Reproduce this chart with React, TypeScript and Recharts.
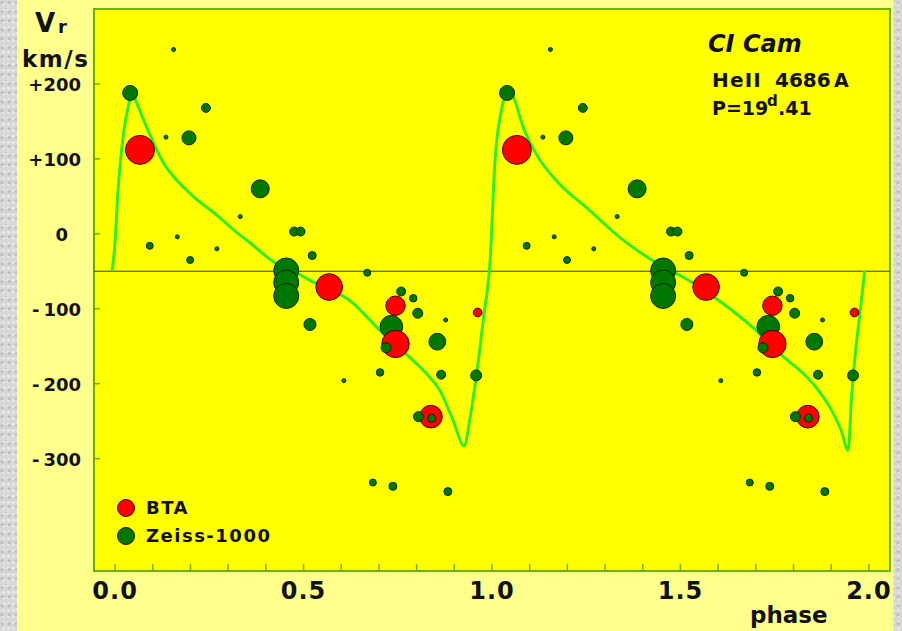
import React from 'react';
import {
  ScatterChart,
  Scatter,
  XAxis,
  YAxis,
  ZAxis,
  CartesianGrid,
  ReferenceLine,
  ReferenceArea,
  Legend,
} from 'recharts';

const FONT = '"DejaVu Sans", Verdana, sans-serif';
const AXIS_GREEN = '#6cb000';
const CURVE_GREEN = '#30ee22';
const ZEISS_FILL = '#007800';
const BTA_FILL = '#ff0000';

// ---- velocity curve (phase, km/s) ----
const curvePhase = [
  -0.008, 0.0, 0.006, 0.022, 0.038, 0.044, 0.057, 0.084, 0.128, 0.17, 0.212, 0.27, 0.323, 0.358, 0.422,
  0.492, 0.528, 0.623, 0.703, 0.782, 0.836, 0.862, 0.897, 0.926, 0.942, 0.959, 0.978, 0.995, 1.008, 1.025,
  1.044, 1.057, 1.083, 1.118, 1.18, 1.251, 1.34, 1.427, 1.525, 1.61, 1.692, 1.764, 1.852, 1.897, 1.927,
  1.945, 1.954, 1.963, 1.976, 1.989,
];
const curveV = [
  -50, -10, 44, 133, 177, 190, 175, 142, 95, 68, 48, 25, 2, -12, -38,
  -55, -65, -89, -129, -165, -192, -209, -249, -283, -245, -188, -110, -36, 97, 165,
  190, 182, 142, 106, 66, 35, -5, -36, -63, -92, -125, -160, -200, -232, -263,
  -289, -218, -165, -107, -49,
];

// ---- Zeiss-1000 points drawn beneath BTA ----
const zeissPhase = [
  0.04, 0.196, 0.241, 0.385, 0.092, 0.199, 0.475, 0.492, 0.523, 0.454, 0.454, 0.454, 0.669, 0.517, 0.759,
  0.791, 0.803, 0.733, 0.855, 0.703, 0.865, 0.958, 0.684, 0.737, 0.883,
  0.155, 0.135, 0.332, 0.165, 0.27, 0.877, 0.607,
  1.04, 1.196, 1.241, 1.385, 1.092, 1.199, 1.475, 1.492, 1.523, 1.454, 1.454, 1.454, 1.669, 1.517, 1.759,
  1.791, 1.803, 1.733, 1.855, 1.703, 1.865, 1.958, 1.684, 1.737, 1.883,
  1.155, 1.135, 1.332, 1.165, 1.27, 1.877, 1.607,
];
const zeissV = [
  188, 128, 168, 60, -16, -35, 3, 3, -29, -49, -65, -83, -52, -121, -77,
  -86, -106, -124, -144, -185, -188, -189, -332, -337, -344,
  246, 129, 23, -4, -20, -115, -196,
  188, 128, 168, 60, -16, -35, 3, 3, -29, -49, -65, -83, -52, -121, -77,
  -86, -106, -124, -144, -185, -188, -189, -332, -337, -344,
  246, 129, 23, -4, -20, -115, -196,
];
const zeissW = [
  56, 49, 20, 81, 12, 12, 20, 20, 16, 156, 156, 156, 12, 36, 20,
  14, 25, 128, 70, 14, 20, 30, 12, 16, 16,
  4, 4, 4, 4, 4, 4, 4,
  56, 49, 20, 81, 12, 12, 20, 20, 16, 156, 156, 156, 12, 36, 20,
  14, 25, 128, 70, 14, 20, 30, 12, 16, 16,
  4, 4, 4, 4, 4, 4, 4,
];

// ---- Zeiss-1000 points drawn over BTA ----
const zeissTopPhase = [0.719, 0.805, 0.84, 1.719, 1.805, 1.84];
const zeissTopV = [-152, -244, -246, -152, -244, -246];
const zeissTopW = [25, 25, 16, 25, 25, 16];

// ---- BTA points ----
const btaPhase = [0.066, 0.568, 0.744, 0.744, 0.962, 0.838, 1.066, 1.568, 1.744, 1.744, 1.962, 1.838];
const btaV = [112, -71, -96, -147, -105, -244, 112, -71, -96, -147, -105, -244];
const btaW = [210, 177, 94, 187, 19, 128, 210, 177, 94, 187, 19, 128];

// ---- axes ----
const xTicks = [0, 0.1, 0.2, 0.3, 0.4, 0.5, 0.6, 0.7, 0.8, 0.9, 1.0, 1.1, 1.2, 1.3, 1.4, 1.5, 1.6, 1.7, 1.8, 1.9, 2.0];
const xLabelValues = [0, 0.5, 1.0, 1.5, 2.0];
const xLabels = ['0.0', '0.5', '1.0', '1.5', '2.0'];
const yTicks = [200, 100, 0, -100, -200, -300];
const yLabels = ['+200', '+100', '0', '-100', '-200', '-300'];
const legendOrder = ['BTA', 'Zeiss-1000'];

const curve = curvePhase.map((p, i) => ({ phase: p, v: curveV[i] }));
const zeiss = zeissPhase.map((p, i) => ({ phase: p, v: zeissV[i], w: zeissW[i] }));
const zeissTop = zeissTopPhase.map((p, i) => ({ phase: p, v: zeissTopV[i], w: zeissTopW[i] }));
const bta = btaPhase.map((p, i) => ({ phase: p, v: btaV[i], w: btaW[i] }));

const XTick = (props: any) => {
  const { x, y, payload } = props;
  const idx = xLabelValues.findIndex((v) => Math.abs(v - payload.value) < 1e-6);
  return (
    <g>
      <line x1={x} x2={x} y1={y} y2={y - 7} stroke={AXIS_GREEN} strokeWidth={1.5} />
      {idx >= 0 && (
        <text
          x={x}
          y={y + 28}
          textAnchor="middle"
          fontFamily={FONT}
          fontWeight="bold"
          fontSize={24}
          letterSpacing={1}
          fill="#111"
        >
          {xLabels[idx]}
        </text>
      )}
    </g>
  );
};

const YTick = (props: any) => {
  const { x, y, payload } = props;
  const idx = yTicks.indexOf(payload.value);
  const label = idx >= 0 ? yLabels[idx] : '';
  const isZero = payload.value === 0;
  const neg = label.startsWith('-');
  return (
    <g>
      <line x1={x} x2={x + 6} y1={y} y2={y} stroke={AXIS_GREEN} strokeWidth={1.5} />
      <text
        x={isZero ? x - 26 : x - 13}
        y={y + 7}
        textAnchor="end"
        fontFamily={FONT}
        fontWeight="bold"
        fontSize={18}
        fill="#111"
      >
        {neg ? (
          <>
            <tspan>-</tspan>
            <tspan dx={4}>{label.slice(1)}</tspan>
          </>
        ) : (
          label
        )}
      </text>
    </g>
  );
};

const renderLegend = (props: any) => {
  const items = [...(props.payload || [])]
    .filter((p: any) => legendOrder.includes(p.value))
    .sort((a: any, b: any) => legendOrder.indexOf(a.value) - legendOrder.indexOf(b.value));
  return (
    <div style={{ fontFamily: FONT, fontWeight: 'bold', fontSize: 18, color: '#111' }}>
      {items.map((it: any) => (
        <div key={it.value} style={{ display: 'flex', alignItems: 'center', height: 28 }}>
          <svg width={20} height={20} style={{ display: 'block' }}>
            <circle cx={10} cy={10} r={8.5} fill={it.color} stroke="#2a0a00" strokeWidth={1} />
          </svg>
          <span style={{ marginLeft: 10, letterSpacing: 1.5, lineHeight: '20px' }}>{it.value}</span>
        </div>
      ))}
    </div>
  );
};

export default function App() {
  return (
    <div
      style={{
        position: 'relative',
        width: 902,
        height: 631,
        overflow: 'hidden',
        background: '#d6d6d6',
        backgroundImage:
          'radial-gradient(circle at 30% 30%, #bcbcbc 1px, transparent 2px), radial-gradient(circle at 70% 70%, #e8e8e8 1px, transparent 2px)',
        backgroundSize: '7px 9px, 5px 6px',
      }}
    >
      <style>{'body{margin:0}'}</style>
      <div style={{ position: 'absolute', left: 17, top: 0, width: 876, height: 631, background: '#ffff8c' }} />
      <div style={{ position: 'absolute', left: 0, top: 0 }}>
        <ScatterChart width={902} height={631} margin={{ top: 9, right: 12, bottom: 0, left: 0 }}>
          <CartesianGrid horizontal={false} vertical={false} fill="#ffff00" stroke="none" />
          <XAxis
            type="number"
            dataKey="phase"
            domain={[-0.056, 2.056]}
            allowDataOverflow
            ticks={xTicks}
            interval={0}
            height={60}
            tickSize={0}
            tickMargin={0}
            axisLine={false}
            tickLine={false}
            tick={<XTick />}
          />
          <YAxis
            type="number"
            dataKey="v"
            domain={[-450, 300]}
            allowDataOverflow
            ticks={yTicks}
            interval={0}
            width={94}
            tickSize={0}
            tickMargin={0}
            axisLine={false}
            tickLine={false}
            tick={<YTick />}
          />
          <ZAxis type="number" dataKey="w" domain={[0, 250]} range={[0, 250 * Math.PI]} />
          <ReferenceLine y={-50} stroke="#3b4600" strokeWidth={1.2} />
          <Scatter
            name="curve"
            data={curve}
            fill={CURVE_GREEN}
            line={{ stroke: CURVE_GREEN, strokeWidth: 3, strokeLinejoin: 'round' }}
            lineType="joint"
            lineJointType="monotoneX"
            shape={() => <g />}
            legendType="none"
            isAnimationActive={false}
          />
          <Scatter
            name="Zeiss-1000"
            data={zeiss}
            fill={ZEISS_FILL}
            stroke="#0b2600"
            strokeWidth={1}
            isAnimationActive={false}
          />
          <Scatter
            name="BTA"
            data={bta}
            fill={BTA_FILL}
            stroke="#3a0000"
            strokeWidth={1}
            isAnimationActive={false}
          />
          <Scatter
            name="Zeiss-1000 top"
            data={zeissTop}
            fill={ZEISS_FILL}
            stroke="#0b2600"
            strokeWidth={1}
            legendType="none"
            isAnimationActive={false}
          />
          <ReferenceArea
            x1={-0.056}
            x2={2.056}
            y1={-450}
            y2={300}
            fill="none"
            fillOpacity={0}
            stroke={AXIS_GREEN}
            strokeWidth={2}
            strokeOpacity={1}
          />
          <Legend
            layout="vertical"
            align="center"
            verticalAlign="middle"
            content={renderLegend}
            wrapperStyle={{ position: 'absolute', left: 116, top: 494, width: 200, height: 56 }}
          />
        </ScatterChart>
      </div>
      <svg
        width={902}
        height={631}
        style={{ position: 'absolute', left: 0, top: 0, pointerEvents: 'none' }}
        fontFamily={FONT}
        fontWeight="bold"
        fill="#111"
      >
        <text x={35} y={32} fontSize={26}>
          V
        </text>
        <text x={58} y={33} fontSize={18}>
          r
        </text>
        <text x={22} y={67} fontSize={23} letterSpacing={1.5}>
          km/s
        </text>
        <text x={708} y={52} fontSize={24} fontStyle="italic">
          CI Cam
        </text>
        <text x={712} y={87} fontSize={20} letterSpacing={1.2}>
          HeII
        </text>
        <text x={775} y={87} fontSize={20}>
          4686
        </text>
        <text x={834} y={87} fontSize={19}>
          A
        </text>
        <text x={712} y={115} fontSize={19}>
          P=19
        </text>
        <text x={767} y={106} fontSize={15}>
          d
        </text>
        <text x={778} y={115} fontSize={19}>
          .41
        </text>
        <text x={750} y={623} fontSize={23}>
          phase
        </text>
      </svg>
    </div>
  );
}
